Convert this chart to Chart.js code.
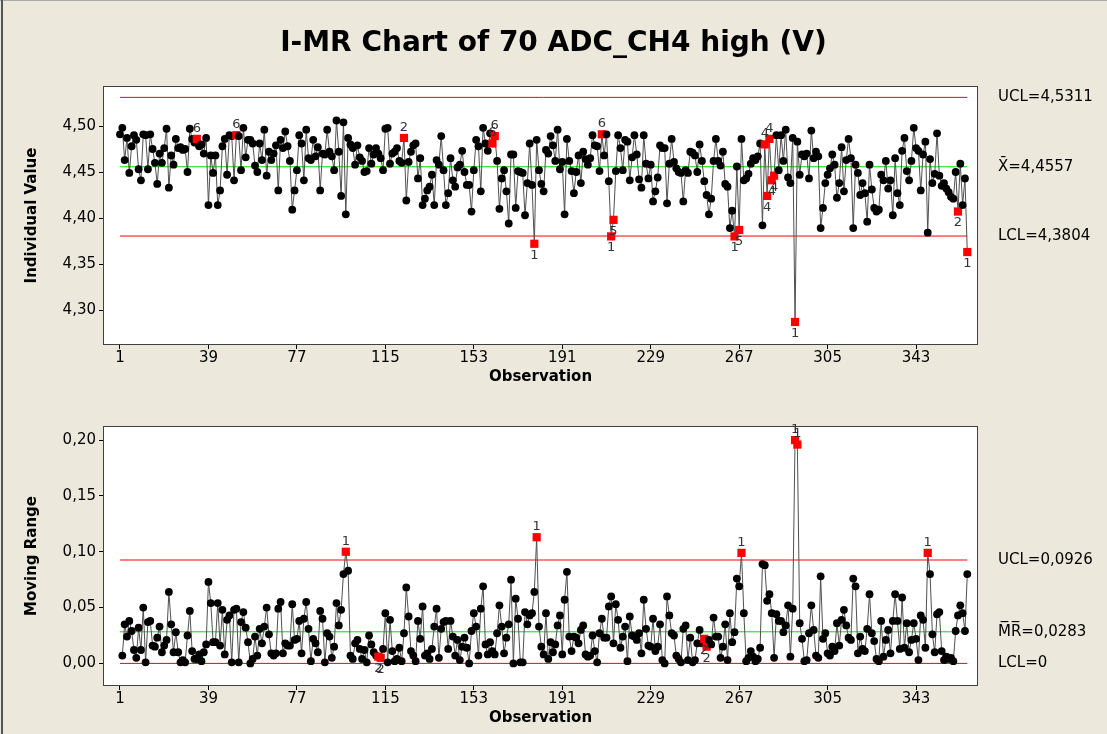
<!DOCTYPE html>
<html><head><meta charset="utf-8">
<script src="https://cdn.jsdelivr.net/npm/chart.js@4.4.1/dist/chart.umd.min.js"></script>
<style>
html,body{margin:0;padding:0;}
body{width:1107px;height:734px;background:#ECE9DC;position:relative;overflow:hidden;font-family:"DejaVu Sans",sans-serif;}
#title{position:absolute;left:0;width:1107px;top:25px;line-height:34px;text-align:center;font-weight:bold;font-size:28px;font-family:"DejaVu Sans";color:#000;z-index:2;}
canvas{position:absolute;left:0;}
#c1{top:0px;}
#c2{top:388px;}
#edgeL{position:absolute;left:1px;top:0;width:2px;height:734px;background:#555;}
#edgeT{position:absolute;left:0;top:0;width:1107px;height:1px;background:#aaa;}
</style></head><body>
<div id="edgeT"></div><div id="edgeL"></div>
<canvas id="c1" width="1107" height="388"></canvas>
<canvas id="c2" width="1107" height="341"></canvas>
<div id="title">I-MR Chart of 70 ADC_CH4 high (V)</div>
<script>
// ---------- data ----------
const individualValues = [
4.491,4.498,4.463,4.487,4.449,4.478,4.490,4.485,4.453,4.441,
4.491,4.490,4.453,4.491,4.475,4.460,4.437,4.470,4.460,4.476,
4.497,4.433,4.468,4.458,4.486,4.476,4.477,4.474,4.475,4.450,
4.497,4.486,4.482,4.486,4.478,4.480,4.470,4.487,4.414,4.468,
4.449,4.468,4.414,4.430,4.478,4.486,4.447,4.490,4.489,4.441,
4.490,4.489,4.452,4.498,4.466,4.485,4.485,4.481,4.457,4.450,
4.481,4.463,4.496,4.446,4.472,4.463,4.470,4.479,4.430,4.485,
4.476,4.494,4.478,4.462,4.409,4.430,4.452,4.490,4.481,4.441,
4.496,4.465,4.463,4.485,4.467,4.477,4.430,4.470,4.469,4.496,
4.472,4.467,4.452,4.506,4.472,4.424,4.504,4.404,4.487,4.480,
4.476,4.458,4.479,4.466,4.462,4.450,4.451,4.476,4.459,4.469,
4.476,4.470,4.465,4.452,4.497,4.498,4.459,4.470,4.472,4.476,
4.462,4.460,4.487,4.419,4.461,4.472,4.479,4.481,4.443,4.465,
4.414,4.421,4.430,4.434,4.447,4.414,4.463,4.458,4.489,4.452,
4.414,4.427,4.465,4.441,4.434,4.455,4.458,4.473,4.450,4.436,
4.436,4.407,4.452,4.485,4.478,4.429,4.498,4.481,4.473,4.492,
4.481,4.489,4.462,4.410,4.443,4.452,4.429,4.394,4.469,4.469,
4.411,4.451,4.450,4.449,4.403,4.438,4.481,4.436,4.372,4.485,
4.452,4.437,4.429,4.474,4.470,4.489,4.479,4.462,4.496,4.453,
4.461,4.404,4.486,4.462,4.451,4.427,4.450,4.468,4.438,4.472,
4.464,4.458,4.465,4.490,4.479,4.478,4.451,4.491,4.468,4.491,
4.440,4.380,4.398,4.451,4.490,4.476,4.452,4.485,4.483,4.441,
4.466,4.490,4.469,4.442,4.433,4.490,4.459,4.443,4.458,4.418,
4.429,4.444,4.479,4.476,4.476,4.416,4.459,4.486,4.461,4.454,
4.450,4.449,4.418,4.452,4.449,4.472,4.471,4.468,4.450,4.480,
4.462,4.440,4.425,4.404,4.421,4.462,4.486,4.462,4.457,4.472,
4.437,4.434,4.389,4.408,4.380,4.456,4.387,4.486,4.441,4.443,
4.448,4.459,4.465,4.463,4.467,4.481,4.392,4.480,4.424,4.486,
4.441,4.446,4.490,4.452,4.490,4.462,4.496,4.444,4.438,4.487,
4.287,4.483,4.447,4.469,4.467,4.470,4.443,4.495,4.465,4.472,
4.467,4.389,4.411,4.438,4.447,4.454,4.469,4.458,4.422,4.438,
4.477,4.429,4.463,4.486,4.465,4.389,4.458,4.449,4.425,4.438,
4.427,4.396,4.458,4.431,4.411,4.407,4.409,4.447,4.441,4.462,
4.432,4.441,4.403,4.465,4.427,4.414,4.473,4.487,4.451,4.441,
4.462,4.498,4.476,4.473,4.430,4.469,4.483,4.384,4.464,4.438,
4.448,4.492,4.446,4.435,4.438,4.432,4.428,4.423,4.421,4.450,
4.407,4.459,4.414,4.443,4.363];

// moving ranges, observations 2..365
const movingRanges = [
.007,.035,.024,.038,.029,.012,.005,.032,.012,.050,
.001,.037,.038,.016,.015,.023,.033,.010,.016,.021,
.064,.035,.010,.028,.010,.001,.003,.001,.025,.047,
.011,.004,.004,.008,.002,.010,.017,.073,.054,.019,
.019,.054,.016,.048,.008,.039,.043,.001,.048,.049,
.001,.037,.046,.032,.019,.000,.004,.024,.007,.031,
.018,.033,.050,.026,.009,.007,.009,.049,.055,.009,
.018,.016,.016,.053,.021,.022,.038,.009,.040,.055,
.031,.002,.022,.018,.010,.047,.040,.001,.027,.024,
.005,.015,.054,.034,.048,.080,.100,.083,.007,.004,
.018,.021,.013,.004,.012,.001,.025,.017,.010,.007,
.006,.005,.013,.045,.001,.039,.011,.002,.004,.014,
.002,.027,.068,.042,.011,.007,.002,.038,.022,.051,
.007,.009,.004,.013,.033,.049,.005,.031,.037,.038,
.013,.038,.024,.007,.021,.003,.015,.023,.014,.000,
.029,.045,.033,.007,.049,.069,.017,.008,.019,.011,
.008,.027,.052,.033,.009,.023,.035,.075,.000,.058,
.040,.001,.001,.046,.035,.043,.045,.064,.113,.033,
.015,.008,.045,.004,.019,.010,.017,.034,.043,.008,
.057,.082,.024,.011,.024,.023,.018,.030,.034,.008,
.006,.007,.025,.011,.001,.027,.040,.023,.023,.051,
.060,.018,.053,.039,.014,.024,.033,.002,.042,.025,
.024,.021,.027,.009,.057,.031,.016,.015,.040,.011,
.015,.035,.003,.000,.060,.043,.027,.025,.007,.004,
.001,.031,.034,.003,.023,.001,.003,.018,.030,.018,
.022,.015,.021,.017,.041,.024,.024,.005,.015,.035,
.003,.045,.019,.028,.076,.069,.099,.045,.002,.005,
.011,.006,.002,.004,.014,.089,.088,.056,.062,.045,
.005,.044,.038,.038,.028,.034,.052,.006,.049,.200,
.196,.036,.022,.002,.003,.027,.052,.030,.007,.005,
.078,.022,.027,.009,.007,.015,.011,.036,.016,.039,
.048,.034,.023,.021,.076,.069,.009,.024,.013,.011,
.031,.062,.027,.020,.004,.002,.038,.006,.021,.030,
.009,.038,.062,.038,.013,.059,.014,.036,.010,.021,
.036,.022,.003,.043,.039,.014,.099,.080,.026,.010,
.044,.046,.011,.003,.006,.004,.005,.002,.029,.043,
.052,.045,.029,.080];

// control limits
const iLimits  = { UCL: 4.5311, CL: 4.4557, LCL: 4.3804 };
const mrLimits = { UCL: 0.0926, CL: 0.0283, LCL: 0 };

// flagged observations (test number shown next to point)
const iFlagObs   = [34, 51, 123, 161, 162, 179, 208, 212, 213, 265, 267, 278, 279, 280, 281, 282, 291, 361, 365];
const iFlagTests = [6,  6,  2,   6,   6,   1,   6,   1,   5,   1,   5,   4,   4,   4,   4,   4,   1,   2,   1];
const mrFlagObs   = [98, 112, 113, 180, 252, 253, 268, 291, 292, 348];
const mrFlagTests = [1,  2,   2,   1,   2,   2,   1,   1,   1,   1];

// tick labels
const xTickLabels  = [1, 39, 77, 115, 153, 191, 229, 267, 305, 343];
const iTickLabels  = [4.30, 4.35, 4.40, 4.45, 4.50];
const mrTickLabels = [0.00, 0.05, 0.10, 0.15, 0.20];

// ---------- drawing ----------
const FONT = '"DejaVu Sans"';
function fmt(v, d) { return v.toFixed(d).replace('.', ','); }

const annot = {
  id: 'annot',
  beforeDraw(chart) {
    const {ctx, chartArea: a} = chart;
    ctx.save();
    ctx.fillStyle = '#ffffff';
    ctx.fillRect(a.left, a.top, a.right - a.left, a.bottom - a.top);
    ctx.restore();
  },
  afterDatasetsDraw(chart, args, o) {
    const {ctx, chartArea: a, scales: {x, y}} = chart;
    ctx.save();
    ctx.strokeStyle = '#404040'; ctx.lineWidth = 1;
    ctx.strokeRect(Math.round(a.left) + 0.5, Math.round(a.top) + 0.5,
                   Math.round(a.right - a.left) - 1, Math.round(a.bottom - a.top) - 1);
    ctx.fillStyle = '#000'; ctx.font = '15px ' + FONT;
    ctx.textAlign = 'left'; ctx.textBaseline = 'middle';
    o.limits.forEach(l => ctx.fillText(l.text, a.right + 20, y.getPixelForValue(l.value)));
    ctx.font = '13px ' + FONT; ctx.fillStyle = '#333'; ctx.textAlign = 'center';
    o.flags.forEach(f => {
      const px = x.getPixelForValue(f.x), py = y.getPixelForValue(f.y);
      if (f.above) { ctx.textBaseline = 'bottom'; ctx.fillText(String(f.test), px, py - 4); }
      else { ctx.textBaseline = 'top'; ctx.fillText(String(f.test), px, py + 5); }
    });
    ctx.restore();
  }
};

function buildChart(canvasId, cfg) {
  const flagMap = new Map(cfg.flagObs.map((o, k) => [o, cfg.flagTests[k]]));
  const pts = cfg.values.map((v, i) => ({x: i + cfg.firstObs, y: v}));
  const isFlag = c => flagMap.has(c.dataIndex + cfg.firstObs);
  const n = cfg.firstObs + cfg.values.length - 1;
  const limitLine = (val, color) => ({
    type: 'line', data: [{x: 1, y: val}, {x: n, y: val}], borderColor: color, borderWidth: 1,
    pointRadius: 0, order: 2
  });
  const flags = cfg.flagObs.map((o, k) => {
    const v = cfg.values[o - cfg.firstObs];
    return {x: o, y: v, test: cfg.flagTests[k], above: cfg.aboveTest(cfg.flagTests[k], v)};
  });
  return new Chart(document.getElementById(canvasId), {
    type: 'line',
    data: {
      datasets: [
        { data: pts, borderColor: '#505050', borderWidth: 1, tension: 0, order: 0,
          pointStyle: c => isFlag(c) ? 'rect' : 'circle',
          pointRadius: c => isFlag(c) ? 5.8 : 3.9,
          pointBackgroundColor: c => isFlag(c) ? '#ff0000' : '#000000',
          pointBorderWidth: 0 },
        limitLine(cfg.limits.UCL, '#ff0000'),
        limitLine(cfg.limits.CL, '#00e000'),
        limitLine(cfg.limits.LCL, '#ff0000')
      ]
    },
    options: {
      responsive: false, maintainAspectRatio: false, animation: false, devicePixelRatio: 1,
      events: [],
      layout: { autoPadding: false, padding: { left: 23, right: 129, top: cfg.padTop, bottom: 0 } },
      plugins: {
        legend: { display: false }, tooltip: { enabled: false },
        annot: { limits: cfg.labels, flags: flags }
      },
      scales: {
        x: {
          type: 'linear', min: -6.3, max: 369.6,
          afterBuildTicks: s => { s.ticks = xTickLabels.map(v => ({value: v})); },
          afterFit: s => { s.height = 43; },
          grid: { display: true, drawOnChartArea: false, drawTicks: true, tickLength: 4, color: '#000' },
          border: { display: false },
          ticks: { font: {family: FONT, size: 15}, color: '#000', padding: 0, maxRotation: 0,
                   autoSkip: false, callback: v => String(v) },
          title: { display: true, text: 'Observation', color: '#000',
                   font: {family: FONT, size: 15, weight: 'bold'}, padding: {top: 0, bottom: 2} }
        },
        y: {
          type: 'linear', min: cfg.yMin, max: cfg.yMax,
          afterBuildTicks: s => { s.ticks = cfg.yTicks.map(v => ({value: v})); },
          afterFit: s => { s.width = 80; },
          grid: { display: true, drawOnChartArea: false, drawTicks: true, tickLength: 4, color: '#000' },
          border: { display: false },
          ticks: { font: {family: FONT, size: 15}, color: '#000', padding: 3,
                   callback: v => fmt(v, 2) },
          title: { display: true, text: cfg.yTitle, color: '#000',
                   font: {family: FONT, size: 15, weight: 'bold'}, padding: {top: 0, bottom: 0} }
        }
      }
    },
    plugins: [annot]
  });
}

buildChart('c1', {
  values: individualValues, firstObs: 1, limits: iLimits,
  flagObs: iFlagObs, flagTests: iFlagTests,
  aboveTest: (t, v) => v >= iLimits.CL,
  yTicks: iTickLabels, yMin: 4.26196, yMax: 4.54348, padTop: 86,
  yTitle: 'Individual Value',
  labels: [
    {value: iLimits.UCL, text: 'UCL=' + fmt(iLimits.UCL, 4)},
    {value: iLimits.CL,  text: 'X\u0304=' + fmt(iLimits.CL, 4)},
    {value: iLimits.LCL, text: 'LCL=' + fmt(iLimits.LCL, 4)}
  ]
});

buildChart('c2', {
  values: movingRanges, firstObs: 2, limits: mrLimits,
  flagObs: mrFlagObs, flagTests: mrFlagTests,
  aboveTest: (t, v) => v >= mrLimits.CL,
  yTicks: mrTickLabels, yMin: -0.02025, yMax: 0.21263, padTop: 38,
  yTitle: 'Moving Range',
  labels: [
    {value: mrLimits.UCL, text: 'UCL=' + fmt(mrLimits.UCL, 4)},
    {value: mrLimits.CL,  text: 'M\u0305R\u0305=' + fmt(mrLimits.CL, 4)},
    {value: mrLimits.LCL, text: 'LCL=' + String(mrLimits.LCL)}
  ]
});
</script>
</body></html>
